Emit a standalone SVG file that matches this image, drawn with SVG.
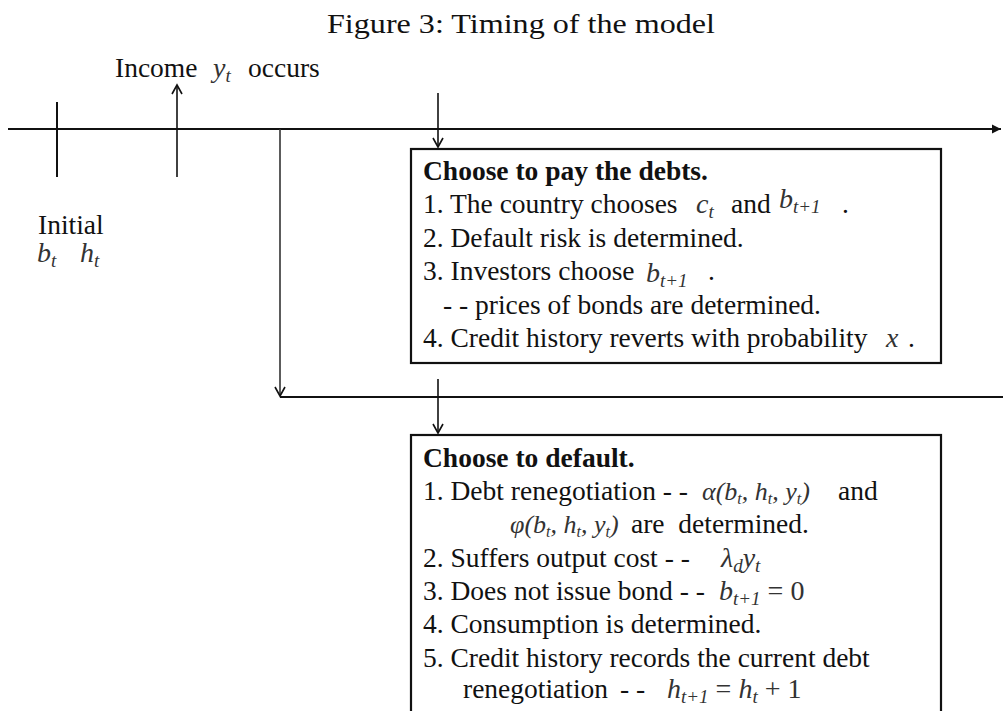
<svg xmlns="http://www.w3.org/2000/svg" width="1003" height="711" viewBox="0 0 1003 711">
<style>
.t{font-family:"Liberation Serif","Times New Roman",serif;font-size:27.5px;fill:#111}
.b{font-weight:bold}
.m{font-family:"Liberation Serif","Times New Roman",serif;font-style:italic;font-size:28px;fill:#333}
.s{font-size:19px}
.ln{stroke:#111;stroke-width:2;fill:none}
.ar{stroke:#111;stroke-width:1.6;fill:none}
.box{fill:#fff;stroke:#111;stroke-width:2.2}
</style>
<defs>
<marker id="open" markerUnits="userSpaceOnUse" markerWidth="14" markerHeight="14" viewBox="-10 -7 12 14" refX="0" refY="0" orient="auto">
<path d="M-9,-5 L0,0 L-9,5" fill="none" stroke="#111" stroke-width="1.6"/>
</marker>
<marker id="fill" markerUnits="userSpaceOnUse" markerWidth="14" markerHeight="14" viewBox="-10 -7 12 14" refX="0" refY="0" orient="auto">
<path d="M-9,-4.5 L0,0 L-9,4.5 Z" fill="#111"/>
</marker>
</defs>

<text id="title" x="521" y="33" class="t" style="font-size:28px" text-anchor="middle" textLength="388" lengthAdjust="spacingAndGlyphs">Figure 3: Timing of the model</text>

<g id="connectors">
<line class="ln" x1="8" y1="129" x2="1001" y2="129" marker-end="url(#fill)"/>
<line class="ln" x1="57" y1="102" x2="57" y2="177"/>
<line class="ar" x1="177" y1="177" x2="177" y2="85" marker-end="url(#open)"/>
<line class="ar" x1="280" y1="129" x2="280" y2="396" marker-end="url(#open)" style="stroke:#333"/>
<line class="ln" x1="280" y1="397" x2="1003" y2="397"/>
<line class="ar" x1="438" y1="93" x2="438" y2="147" marker-end="url(#open)"/>
<line class="ar" x1="438" y1="379" x2="438" y2="433" marker-end="url(#open)"/>
</g>

<g id="income">
<text class="t" x="115" y="77">Income</text>
<text class="m" x="213" y="77">y<tspan class="s" dy="5">t</tspan></text>
<text class="t" x="248" y="77">occurs</text>
</g>

<g id="initial">
<text class="t" x="38" y="234">Initial</text>
<text class="m" x="37" y="262">b<tspan class="s" dy="5">t</tspan></text>
<text class="m" x="80" y="262">h<tspan class="s" dy="5">t</tspan></text>
</g>

<g id="pay">
<rect class="box" x="411" y="149" width="530" height="214"/>
<text class="t b" x="423" y="180">Choose to pay the debts.</text>
<text class="t" x="423" y="213">1. The country chooses</text>
<text class="m" x="696" y="213">c<tspan class="s" dy="5">t</tspan></text>
<text class="t" x="731" y="213">and</text>
<text class="m" x="779" y="208">b<tspan class="s" dy="5">t+1</tspan></text>
<text class="t" x="842" y="213">.</text>
<text class="t" x="423" y="247">2. Default risk is determined.</text>
<text class="t" x="423" y="280">3. Investors choose</text>
<text class="m" x="646" y="282">b<tspan class="s" dy="5">t+1</tspan></text>
<text class="t" x="708" y="280">.</text>
<text class="t" x="443" y="314">- - prices of bonds are determined.</text>
<text class="t" x="423" y="347">4. Credit history reverts with probability</text>
<text class="m" x="886" y="347">x</text>
<text class="t" x="908" y="347">.</text>
</g>

<g id="default">
<rect class="box" x="411" y="435" width="530" height="290"/>
<text class="t b" x="423" y="467">Choose to default.</text>
<text class="t" x="423" y="500">1. Debt renegotiation - -</text>
<text class="m" x="702" y="500" style="font-size:26px">α(b<tspan style="font-size:16px" dy="4">t</tspan><tspan dy="-4">, h</tspan><tspan style="font-size:16px" dy="4">t</tspan><tspan dy="-4">, y</tspan><tspan style="font-size:16px" dy="4">t</tspan><tspan dy="-4">)</tspan></text>
<text class="t" x="838" y="500">and</text>
<text class="m" x="510" y="533" style="font-size:26px">φ(b<tspan style="font-size:16px" dy="4">t</tspan><tspan dy="-4">, h</tspan><tspan style="font-size:16px" dy="4">t</tspan><tspan dy="-4">, y</tspan><tspan style="font-size:16px" dy="4">t</tspan><tspan dy="-4">)</tspan></text>
<text class="t" x="631" y="533">are&#160; determined.</text>
<text class="t" x="423" y="567">2. Suffers output cost - -</text>
<text class="m" x="721" y="567">λ<tspan class="s" dy="5">d</tspan><tspan dy="-5">y</tspan><tspan class="s" dy="5">t</tspan></text>
<text class="t" x="423" y="600">3. Does not issue bond - -</text>
<text class="m" x="719" y="600">b<tspan class="s" dy="5">t+1</tspan><tspan dy="-5" style="font-style:normal"> = 0</tspan></text>
<text class="t" x="423" y="633">4. Consumption is determined.</text>
<text class="t" x="423" y="667">5. Credit history records the current debt</text>
<text class="t" x="463" y="698">renegotiation</text>
<text class="t" x="620" y="698">- -</text>
<text class="m" x="667" y="698">h<tspan class="s" dy="5">t+1</tspan><tspan dy="-5" style="font-style:normal"> = </tspan><tspan>h</tspan><tspan class="s" dy="5">t</tspan><tspan dy="-5" style="font-style:normal"> + 1</tspan></text>
</g>
</svg>
